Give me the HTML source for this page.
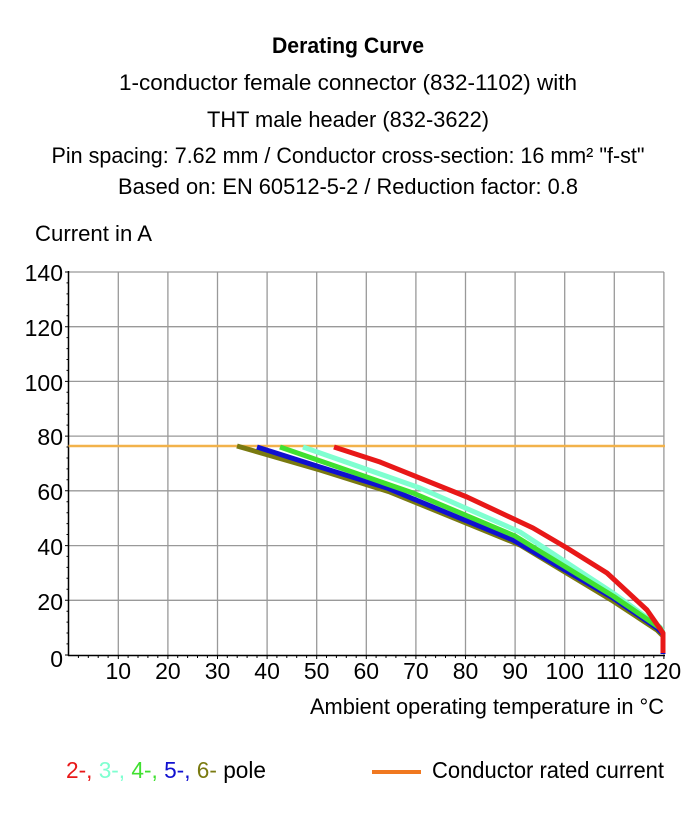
<!DOCTYPE html>
<html><head><meta charset="utf-8"><style>html,body{margin:0;padding:0;background:#fff}svg{display:block}text{font-family:"Liberation Sans Narrow","Liberation Sans",sans-serif;fill:#000}</style></head><body>
<svg width="697" height="817" viewBox="0 0 697 817" xmlns="http://www.w3.org/2000/svg">
<g font-size="22" text-anchor="middle">
<text x="348" y="53" font-weight="bold" textLength="152" lengthAdjust="spacingAndGlyphs">Derating Curve</text>
<text x="348" y="90" textLength="458" lengthAdjust="spacingAndGlyphs">1-conductor female connector (832-1102) with</text>
<text x="348" y="127" textLength="282" lengthAdjust="spacingAndGlyphs">THT male header (832-3622)</text>
<text x="348" y="163" textLength="593" lengthAdjust="spacingAndGlyphs">Pin spacing: 7.62 mm / Conductor cross-section: 16 mm² "f-st"</text>
<text x="348" y="194" textLength="460" lengthAdjust="spacingAndGlyphs">Based on: EN 60512-5-2 / Reduction factor: 0.8</text>
</g>
<text x="35" y="241" font-size="22" textLength="117" lengthAdjust="spacingAndGlyphs">Current in A</text>
<g stroke="#999" stroke-width="1.3">
<line x1="118.3" y1="272" x2="118.3" y2="655"/><line x1="167.9" y1="272" x2="167.9" y2="655"/><line x1="217.5" y1="272" x2="217.5" y2="655"/><line x1="267.1" y1="272" x2="267.1" y2="655"/><line x1="316.7" y1="272" x2="316.7" y2="655"/><line x1="366.3" y1="272" x2="366.3" y2="655"/><line x1="415.9" y1="272" x2="415.9" y2="655"/><line x1="465.5" y1="272" x2="465.5" y2="655"/><line x1="515.1" y1="272" x2="515.1" y2="655"/><line x1="564.7" y1="272" x2="564.7" y2="655"/><line x1="614.3" y1="272" x2="614.3" y2="655"/><line x1="663.9" y1="272" x2="663.9" y2="655"/>
<line x1="68.5" y1="272" x2="664" y2="272"/><line x1="68.5" y1="326.7" x2="664" y2="326.7"/><line x1="68.5" y1="381.4" x2="664" y2="381.4"/><line x1="68.5" y1="436.1" x2="664" y2="436.1"/><line x1="68.5" y1="490.8" x2="664" y2="490.8"/><line x1="68.5" y1="545.6" x2="664" y2="545.6"/><line x1="68.5" y1="600.3" x2="664" y2="600.3"/>
</g>
<g stroke="#000" stroke-width="1.5">
<line x1="68.5" y1="271" x2="68.5" y2="656"/><line x1="68" y1="655.5" x2="665" y2="655.5"/>
</g>
<g stroke="#000" stroke-width="1">
<path d="M65 272h4M65 326.7h4M65 381.4h4M65 436.1h4M65 490.8h4M65 545.6h4M65 600.3h4M65 655h4"/>
<path d="M66.5 282.9h2M66.5 293.9h2M66.5 304.8h2M66.5 315.7h2M66.5 337.6h2M66.5 348.6h2M66.5 359.5h2M66.5 370.4h2M66.5 392.3h2M66.5 403.3h2M66.5 414.2h2M66.5 425.1h2M66.5 447h2M66.5 458h2M66.5 468.9h2M66.5 479.8h2M66.5 501.7h2M66.5 512.7h2M66.5 523.6h2M66.5 534.5h2M66.5 556.4h2M66.5 567.4h2M66.5 578.3h2M66.5 589.2h2M66.5 611.2h2M66.5 622.1h2M66.5 633h2M66.5 643.9h2"/>
<path d="M78.4 655v3M88.3 655v3M98.2 655v3M108.1 655v3M118.3 655v4M128.1 655v3M138 655v3M147.9 655v3M157.8 655v3M167.9 655v4M177.7 655v3M187.6 655v3M197.5 655v3M207.4 655v3M217.5 655v4M227.3 655v3M237.2 655v3M247.1 655v3M257 655v3M267.1 655v4M276.9 655v3M286.8 655v3M296.7 655v3M306.6 655v3M316.7 655v4M326.5 655v3M336.4 655v3M346.3 655v3M356.2 655v3M366.3 655v4M376.1 655v3M386 655v3M395.9 655v3M405.8 655v3M415.9 655v4M425.7 655v3M435.6 655v3M445.5 655v3M455.4 655v3M465.5 655v4M475.3 655v3M485.2 655v3M495.1 655v3M505 655v3M515.1 655v4M524.9 655v3M534.8 655v3M544.7 655v3M554.6 655v3M564.7 655v4M574.5 655v3M584.4 655v3M594.3 655v3M604.2 655v3M614.3 655v4M624.1 655v3M634 655v3M643.9 655v3M653.8 655v3M663.9 655v4"/>
</g>
<g font-size="23" text-anchor="end">
<text x="63" y="281">140</text><text x="63" y="336">120</text><text x="63" y="391">100</text><text x="63" y="445">80</text><text x="63" y="500">60</text><text x="63" y="555">40</text><text x="63" y="610">20</text><text x="63" y="667">0</text>
</g>
<g font-size="23" text-anchor="middle">
<text x="118.3" y="679">10</text><text x="167.9" y="679">20</text><text x="217.5" y="679">30</text><text x="267.1" y="679">40</text><text x="316.7" y="679">50</text><text x="366.3" y="679">60</text><text x="415.9" y="679">70</text><text x="465.5" y="679">80</text><text x="515.1" y="679">90</text><text x="564.7" y="679">100</text><text x="614.3" y="679">110</text><text x="662" y="679">120</text>
</g>
<text x="664" y="714" font-size="22" text-anchor="end" textLength="354" lengthAdjust="spacingAndGlyphs">Ambient operating temperature in °C</text>
<line x1="68.5" y1="446" x2="665" y2="446" stroke="#f2b24a" stroke-width="2.5"/>
<g fill="none" stroke-width="5" stroke-linejoin="round">
<polyline stroke="#7a7a10" points="237,446 320,470 390,492 520,545 613,601 657,630 663,636 663,654"/>
<polyline stroke="#1010d0" points="257,447 320,467 387,488 513,540 613,598 657,628 663,634 663,654"/>
<polyline stroke="#7fffd0" points="303,447 420,488 520,532 613,593 660,627 663,632"/>
<polyline stroke="#40e030" points="280,447 413,493 515,536 613,596 660,628 663,633"/>
<polyline stroke="#e81818" points="334,447 380,462 467,497 533,528 567,548 607,573 647,610 663,633 663,653"/>
</g>
<g font-size="23">
<text x="66" y="778" textLength="200" lengthAdjust="spacingAndGlyphs"><tspan style="fill:#e81818">2-, </tspan><tspan style="fill:#7fffd0">3-, </tspan><tspan style="fill:#40e030">4-, </tspan><tspan style="fill:#1010d0">5-, </tspan><tspan style="fill:#7a7a10">6-</tspan>  pole</text>
<text x="432" y="778" textLength="232" lengthAdjust="spacingAndGlyphs">Conductor rated current</text>
</g>
<line x1="372" y1="772" x2="421" y2="772" stroke="#f07820" stroke-width="4"/>
</svg>
</body></html>
